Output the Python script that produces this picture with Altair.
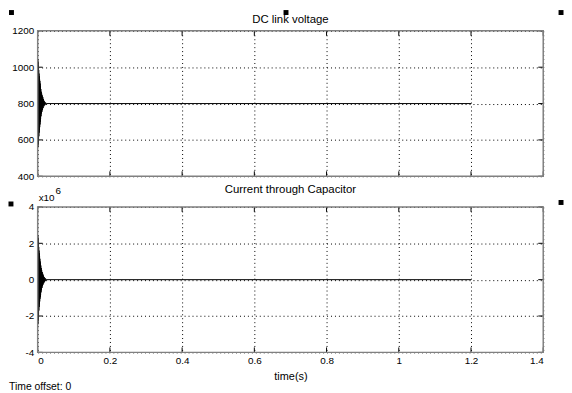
import altair as alt
import pandas as pd

# ---------------- data ----------------
t_osc = [0.0000, 0.0004, 0.0008, 0.0012, 0.0016, 0.0020, 0.0024, 0.0028, 0.0032, 0.0036,
         0.0040, 0.0044, 0.0048, 0.0052, 0.0056, 0.0060, 0.0064, 0.0068, 0.0072, 0.0076,
         0.0080, 0.0086, 0.0092, 0.0098, 0.0104, 0.0110, 0.0118, 0.0126, 0.0134, 0.0142,
         0.0150, 0.0160, 0.0170, 0.0180, 0.0192, 0.0204, 0.0218, 0.0232, 0.0250, 1.2000]

voltage = [800, 1045, 560, 1030, 575, 1010, 600, 985, 620, 965,
           640, 950, 655, 935, 670, 925, 685, 910, 700, 895,
           715, 880, 730, 865, 745, 855, 755, 845, 765, 835,
           775, 825, 785, 815, 790, 808, 795, 803, 800, 800]

# current through capacitor, in units of 10^6
current = [0, 2.45, -2.45, 2.3, -2.25, 2.05, -1.95, 1.8, -1.7, 1.6,
           -1.5, 1.45, -1.35, 1.3, -1.2, 1.15, -1.05, 1.0, -0.95, 0.9,
           -0.85, 0.78, -0.7, 0.64, -0.58, 0.52, -0.46, 0.42, -0.36, 0.32,
           -0.27, 0.23, -0.19, 0.15, -0.12, 0.09, -0.06, 0.04, 0, 0]

x_ticks = [0, 0.2, 0.4, 0.6, 0.8, 1.0, 1.2, 1.4]
v_ticks = [400, 600, 800, 1000, 1200]
i_ticks = [-4, -2, 0, 2, 4]

titles = ["DC link voltage", "Current through Capacitor"]

# ---------------- styling ----------------
W, H = 511, 147
FONT = "Liberation Sans"
FRAME = "#808080"

df_v = pd.DataFrame({"t": t_osc, "v": voltage})
df_i = pd.DataFrame({"t": t_osc, "v": current})
df_xt = pd.DataFrame({"t": x_ticks})
one = pd.DataFrame({"k": [0]})


def handle(x, y):
    return alt.Chart(one).mark_square(size=25, color="black", opacity=1, filled=True).encode(
        x=alt.value(x), y=alt.value(y))


def label(text, x, y, size=10, align="left"):
    return alt.Chart(one).mark_text(align=align, baseline="middle", font=FONT, fontSize=size,
                                    color="black").encode(
        x=alt.value(x), y=alt.value(y), text=alt.value(text))


def panel(df, yticks, ydomain, title, title_y, bottom):
    xkw = dict(values=x_ticks, grid=True, gridDash=[1, 3], gridColor="black", gridOpacity=1,
               gridWidth=1, domain=False, ticks=False, labels=bottom, format="~g",
               labelFont=FONT, labelFontSize=10, labelColor="black", labelPadding=3,
               titleFont=FONT, titleFontSize=11, titleFontWeight="normal", titleColor="black",
               titlePadding=5, title="time(s)" if bottom else "")
    if not bottom:
        xkw.update(minExtent=0, maxExtent=0)
    xaxis = alt.Axis(**xkw)
    yaxis = alt.Axis(values=yticks, grid=True, gridDash=[1, 3], gridColor="black", gridOpacity=1,
                     gridWidth=1, domain=False, ticks=False, labelExpr="'' + datum.value",
                     labelFont=FONT, labelFontSize=10, labelColor="black", labelPadding=4,
                     title="", minExtent=29, maxExtent=29)
    X = alt.X("t:Q", scale=alt.Scale(domain=[0, 1.4], nice=False, zero=False), axis=xaxis)
    Y = alt.Y("v:Q", scale=alt.Scale(domain=ydomain, nice=False, zero=False), axis=yaxis)
    df_yt = pd.DataFrame({"v": yticks})

    line = alt.Chart(df).mark_line(color="black", strokeWidth=1, clip=True).encode(x=X, y=Y)
    tick_top = alt.Chart(df_xt).mark_rule(color="black", strokeWidth=1).encode(
        x=X, y=alt.value(0), y2=alt.value(5))
    tick_bot = alt.Chart(df_xt).mark_rule(color="black", strokeWidth=1).encode(
        x=X, y=alt.value(H), y2=alt.value(H - 5))
    tick_l = alt.Chart(df_yt).mark_rule(color="black", strokeWidth=1).encode(
        y=Y, x=alt.value(0), x2=alt.value(5))
    tick_r = alt.Chart(df_yt).mark_rule(color="black", strokeWidth=1).encode(
        y=Y, x=alt.value(W), x2=alt.value(W - 5))
    frame = alt.Chart(one).mark_rect(fillOpacity=0, stroke=FRAME, strokeWidth=1.5).encode(
        x=alt.value(0), x2=alt.value(W), y=alt.value(0), y2=alt.value(H))

    layers = [line, tick_top, tick_bot, tick_l, tick_r, frame,
              label(title, W / 2, title_y, size=11.5, align="center")]
    if not bottom:
        layers += [handle(-26.5, -18.5), handle(251, -18.5), handle(529, -18.5)]
    else:
        layers += [handle(-27, -3), handle(529, -4.5),
                   label("x10", 1, -9), label("6", 18, -16),
                   label("Time offset:  0", -29, 182, size=10.5)]
    return alt.layer(*layers).properties(width=W, height=H)


top = panel(df_v, v_ticks, [400, 1200], titles[0], -11, False)
bot = panel(df_i, i_ticks, [-4, 4], titles[1], -17, True)

chart = alt.vconcat(top, bot, spacing=3).properties(padding=0, background="white").configure_view(
    stroke=None)

chart.save("out.html", embed_options={"renderer": "svg", "actions": False})
